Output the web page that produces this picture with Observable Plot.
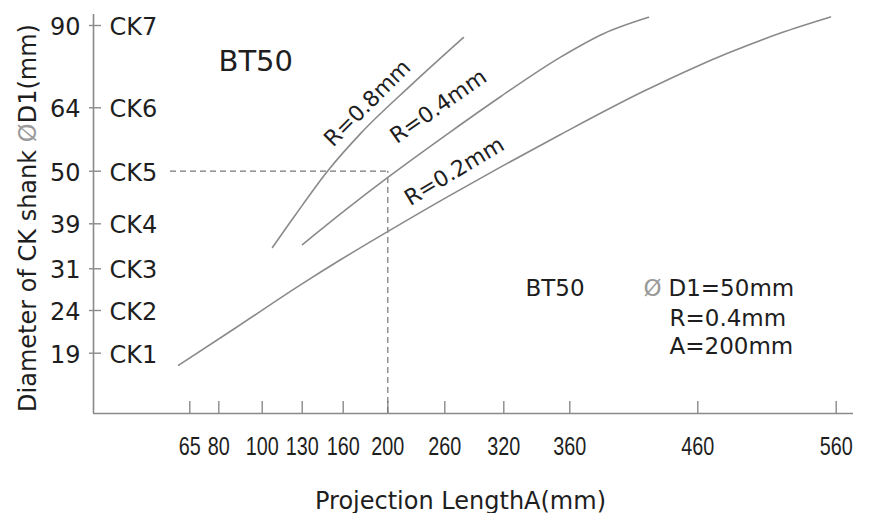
<!DOCTYPE html>
<html><head><meta charset="utf-8">
<script src="https://cdn.jsdelivr.net/npm/d3@7"></script>
<script src="https://cdn.jsdelivr.net/npm/@observablehq/plot@0.6"></script>
<style>body{margin:0;background:#fff} svg{display:block}</style>
</head><body><div id="chart"></div>
<script>
// ---- data ----
const xTicks = [65, 80, 100, 130, 160, 200, 260, 320, 360, 460, 560];
const yTicks = [19, 24, 31, 39, 50, 64, 90];
const ckLabels = ["CK1", "CK2", "CK3", "CK4", "CK5", "CK6", "CK7"];
const xAxisExtent = [15, 572.5];
const yAxisExtent = [12, 93.5];

const seriesNames = ["R=0.2mm", "R=0.4mm", "R=0.8mm"];
const r02A = [59.2, 86.8, 128.7, 158.0, 200.7, 265.8, 316.6, 354.4, 417.6, 456.6, 481.5, 519.8, 555.9];
const r02D = [17.6, 21.8, 28.3, 32.6, 37.7, 45.0, 50.9, 58.1, 69.2, 76.6, 81.2, 87.6, 92.7];
const r04A = [130.2, 162.1, 200.7, 265.8, 316.6, 354.4, 386.3, 421.5];
const r04D = [35.3, 41.9, 48.8, 58.7, 67.5, 80.0, 87.4, 92.6];
const r08A = [107.7, 125.0, 148.5, 175.5, 223.9, 279.0];
const r08D = [34.8, 40.9, 50.0, 58.3, 71.0, 86.2];

const labelText = ["R=0.8mm", "R=0.4mm", "R=0.2mm"];
const labelA = [186.3, 257.6, 273.4];
const labelD = [63.9, 63.0, 48.7];
const labelAngle = [-45, -35, -31];

const exampleA = 200, exampleD1 = 50;

// ---- build table ----
const curves = [
  ...r02A.map((a, i) => ({series: seriesNames[0], A: a, D1: r02D[i]})),
  ...r04A.map((a, i) => ({series: seriesNames[1], A: a, D1: r04D[i]})),
  ...r08A.map((a, i) => ({series: seriesNames[2], A: a, D1: r08D[i]}))
];
const labelIdx = labelText.map((_, i) => i);

const axisColor = "#8a8a8a";
const ink = "#1e1e1e";

const plot = Plot.plot({
  width: 870, height: 513,
  marginTop: 14, marginRight: 17, marginBottom: 100, marginLeft: 93,
  style: {fontFamily: "DejaVu Sans, Liberation Sans, Arial, sans-serif", background: "#fff", color: ink},
  x: {type: "linear", domain: [xAxisExtent[0], ...xTicks, xAxisExtent[1]],
      range: [93, 189.3, 218.3, 261.7, 301.7, 342.7, 387.3, 444.3, 503.3, 569.3, 697.3, 835.7, 853], axis: null},
  y: {type: "linear", domain: [yAxisExtent[0], ...yTicks, yAxisExtent[1]],
      range: [413, 352.7, 310, 268.3, 223.3, 170.7, 107.3, 25, 14], axis: null},
  marks: [
    // axes
    Plot.ruleX([xAxisExtent[0]], {x: d => d, stroke: axisColor, strokeWidth: 1.6}),
    Plot.ruleY([yAxisExtent[0]], {y: d => d, stroke: axisColor, strokeWidth: 1.6}),
    Plot.ruleX(xTicks, {x: d => d, insetTop: 387, stroke: axisColor, strokeWidth: 1.4}),
    Plot.ruleY(yTicks, {y: d => d, insetLeft: -4, insetRight: 752, stroke: axisColor, strokeWidth: 1.4}),
    // dashed guide for the example
    Plot.ruleY([exampleD1], {y: d => d, x1: xAxisExtent[0], x2: exampleA, insetLeft: 77, stroke: "#777", strokeWidth: 1.2, strokeDasharray: "6,4"}),
    Plot.ruleX([exampleA], {x: d => d, y1: yAxisExtent[0], y2: exampleD1, stroke: "#777", strokeWidth: 1.2, strokeDasharray: "6,4"}),
    // curves
    Plot.line(curves, {x: "A", y: "D1", z: "series", curve: "monotone-x", stroke: "#8a8a8a", strokeWidth: 1.6}),
    // curve labels
    Plot.text(labelIdx, {x: i => labelA[i], y: i => labelD[i], text: i => labelText[i], rotate: i => labelAngle[i],
      lineAnchor: "bottom", textAnchor: "middle", fontSize: 22, fill: ink}),
    // tick labels
    Plot.text(xTicks, {x: d => d, text: d => String(d), frameAnchor: "bottom", lineAnchor: "bottom", textAnchor: "middle", dy: 41,
      fontSize: 26, fontFamily: "Liberation Sans Narrow, Liberation Sans, Arial, sans-serif", fill: ink, ariaDescription: "xticklabel"}),
    Plot.text(yTicks, {y: d => d, text: d => String(d), frameAnchor: "left", textAnchor: "end", dx: -13, dy: 2, fontSize: 24, fill: ink}),
    Plot.text(yTicks, {y: d => d, text: (d, i) => ckLabels[i], frameAnchor: "left", textAnchor: "start", dx: 16, dy: 2, fontSize: 24, fill: ink}),
    // titles
    Plot.text(["BT50"], {text: d => d, frameAnchor: "top-left", dx: 125, dy: 56, textAnchor: "start", lineAnchor: "bottom", fontSize: 29, fill: ink}),
    Plot.text(["Projection LengthA(mm)"], {text: d => d, frameAnchor: "bottom", dx: -13, dy: 95, lineAnchor: "bottom", textAnchor: "middle", fontSize: 24, fill: ink}),
    Plot.text(["Diameter of CK shank ØD1(mm)"], {text: d => d, frameAnchor: "left", rotate: -90, dx: -58, dy: 4, lineAnchor: "bottom", textAnchor: "middle", fontSize: 24, fill: ink, ariaDescription: "ytitle"}),
    // example legend
    Plot.text(["BT50"], {text: d => d, frameAnchor: "top-left", dx: 432, dy: 281, textAnchor: "start", lineAnchor: "bottom", fontSize: 23, fill: ink}),
    Plot.text(["Ø"], {text: d => d, frameAnchor: "top-left", dx: 550, dy: 281, textAnchor: "start", lineAnchor: "bottom", fontSize: 23, fill: "#9a9a9a"}),
    Plot.text(["D1=50mm"], {text: d => d, frameAnchor: "top-left", dx: 575, dy: 281, textAnchor: "start", lineAnchor: "bottom", fontSize: 23, fill: ink}),
    Plot.text(["R=0.4mm"], {text: d => d, frameAnchor: "top-left", dx: 576, dy: 311, textAnchor: "start", lineAnchor: "bottom", fontSize: 23, fill: ink}),
    Plot.text(["A=200mm"], {text: d => d, frameAnchor: "top-left", dx: 576, dy: 339, textAnchor: "start", lineAnchor: "bottom", fontSize: 23, fill: ink})
  ]
});

document.getElementById("chart").appendChild(plot);

// condensed x tick labels
d3.select(plot).selectAll('g[aria-description="xticklabel"] text').each(function () {
  const n = this.textContent.length;
  this.setAttribute("textLength", n * 11);
  this.setAttribute("lengthAdjust", "spacingAndGlyphs");
});
// gray diameter sign in y title
d3.select(plot).selectAll('g[aria-description="ytitle"] text').each(function () {
  const t = d3.select(this);
  t.text("");
  t.append("tspan").text("Diameter of CK shank ");
  t.append("tspan").attr("fill", "#9a9a9a").text("Ø");
  t.append("tspan").text("D1(mm)");
});
</script>
</body></html>
